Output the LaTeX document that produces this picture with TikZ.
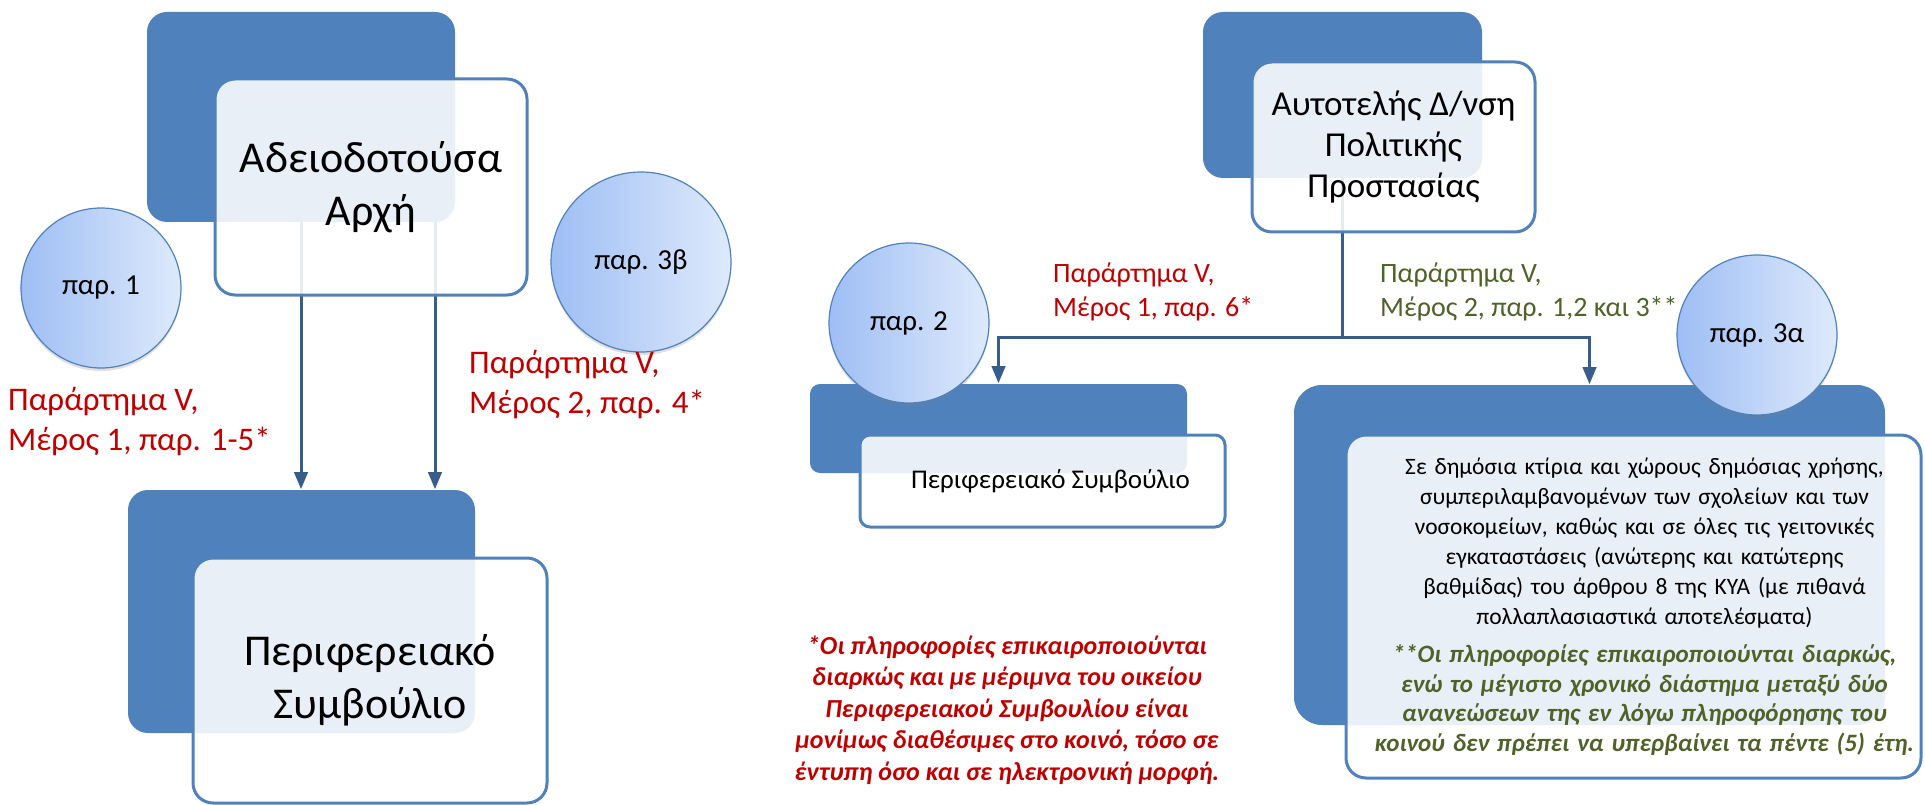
\documentclass[tikz,border=0pt]{standalone}
\usepackage{fontspec}
\setmainfont{Carlito}
\usetikzlibrary{arrows}
\usetikzlibrary{positioning}
\usetikzlibrary{shadows}

\definecolor{boxblue}{RGB}{79,129,189}
\definecolor{linkblue}{RGB}{56,93,138}
\definecolor{notered}{RGB}{192,0,0}
\definecolor{notegreen}{RGB}{79,98,40}
\definecolor{parleft}{RGB}{158,190,244}
\definecolor{parright}{RGB}{222,234,252}

\begin{document}
\begin{tikzpicture}[x=1pt,y=-1pt,>=triangle 45,shorten >=1pt,
    back box/.style={rectangle,rounded corners=20pt,fill=boxblue,inner sep=0pt,outer sep=0pt},
    front box/.style={rectangle,rounded corners=20pt,draw=boxblue,line width=3pt,fill=white,
                      fill opacity=0.88,text opacity=1,align=center,inner sep=0pt,outer sep=0pt},
    par node/.style={circle,draw=boxblue,line width=1.2pt,left color=parleft,right color=parright,
                     inner sep=0pt,minimum size=160pt,font=\fontsize{29}{35}\selectfont,
                     drop shadow={opacity=0.25,shadow xshift=0pt,shadow yshift=-3pt}},
    ref label/.style={align=left,anchor=west,inner sep=0pt,font=\fontsize{33}{40}\selectfont},
    link/.style={draw=linkblue,line width=3pt}]
    \useasboundingbox (0,0) rectangle (1925,805);

    % left part
    \node[back box,minimum width=308pt,minimum height=210pt] (backA) at (301,117) {};
    \node[back box,minimum width=347pt,minimum height=243pt] (backB) at (301.5,611.5) {};
    \draw[link,->] (backA.south) -- (backA.south |- backB.north);
    \draw[link,->] ([xshift=134pt]backA.south) -- ([xshift=134pt]backA.south |- backB.north);
    \node[front box,minimum width=312pt,minimum height=216pt,font=\fontsize{44}{53}\selectfont]
        (frontA) [below right=67pt and 68pt of backA.north west] {Αδειοδοτούσα\\Αρχή};
    \node[front box,minimum width=354pt,minimum height=245pt,font=\fontsize{44}{53}\selectfont]
        (frontB) [below right=68pt and 65pt of backB.north west] {Περιφερειακό\\Συμβούλιο};
    \node[par node] (par1) at (101,288) {παρ. 1};
    \node[par node,minimum size=180pt] (par3b) at (641,262) {παρ. 3β};
    \node[ref label,text=notered] (lblA1) at (8,422) {Παράρτημα V,\\Μέρος 1, παρ. 1-5*};
    \node[ref label,text=notered] (lblA2) at (469,385) {Παράρτημα V,\\Μέρος 2, παρ. 4*};

    % right part
    \node[back box,minimum width=279pt,minimum height=166pt] (backC) at (1342.5,95) {};
    \node[back box,rounded corners=10pt,minimum width=377pt,minimum height=89pt] (backD) at (998.5,428.5) {};
    \node[back box,rounded corners=28pt,minimum width=591pt,minimum height=340pt] (backE) at (1589.5,555) {};
    \coordinate (split) at (1342.5,337);
    \draw[link,shorten >=0pt] (backC.south) -- (split);
    \draw[link,->] (split) -| (backD.north);
    \draw[link,->] (split) -| (backE.north);
    \node[front box,minimum width=283pt,minimum height=170pt,font=\fontsize{35}{41}\selectfont]
        (frontC) [below right=50pt and 49pt of backC.north west] {Αυτοτελής Δ/νση\\Πολιτικής\\Προστασίας};
    \node[front box,rounded corners=10pt,minimum width=365pt,minimum height=92pt,font=\fontsize{27}{32}\selectfont]
        (frontD) [below right=51pt and 50pt of backD.north west] {\hspace*{16pt}Περιφερειακό Συμβούλιο};
    \node[front box,minimum width=575pt,minimum height=343pt,text width=572pt,font=\fontsize{23.5}{30}\selectfont]
        (frontE) [below right=50pt and 52pt of backE.north west]
        {\advance\leftskip by 22pt
         Σε δημόσια κτίρια και χώρους δημόσιας χρήσης,\\συμπεριλαμβανομένων των σχολείων και των\\%
         νοσοκομείων, καθώς και σε όλες τις γειτονικές\\εγκαταστάσεις (ανώτερης και κατώτερης\\%
         βαθμίδας) του άρθρου 8 της ΚΥΑ (με πιθανά\\πολλαπλασιαστικά αποτελέσματα)\\[9pt]%
         {\color{notegreen}\fontsize{25}{29.5}\selectfont\bfseries\itshape **Οι πληροφορίες επικαιροποιούνται διαρκώς,\\%
         ενώ το μέγιστο χρονικό διάστημα μεταξύ δύο\\ανανεώσεων της εν λόγω πληροφόρησης του\\%
         κοινού δεν πρέπει να υπερβαίνει τα πέντε (5) έτη.\par}};
    \node[par node] (par2) at (909,323) {παρ. 2};
    \node[par node] (par3a) at (1757,335) {παρ. 3α};
    \node[ref label,text=notered,font=\fontsize{28}{34}\selectfont] (lblC1) at (1053,292) {Παράρτημα V,\\Μέρος 1, παρ. 6*};
    \node[ref label,text=notegreen,font=\fontsize{28}{34}\selectfont] (lblC2) at (1380,292) {Παράρτημα V,\\Μέρος 2, παρ. 1,2 και 3**};

    % note
    \node[align=center,inner sep=0pt,text=notered,font=\fontsize{26}{31.5}\selectfont\bfseries\itshape]
        (note) at (1007,710) {*Οι πληροφορίες επικαιροποιούνται\\διαρκώς και με μέριμνα του οικείου\\%
        Περιφερειακού Συμβουλίου είναι\\μονίμως διαθέσιμες στο κοινό, τόσο σε\\έντυπη όσο και σε ηλεκτρονική μορφή.};
\end{tikzpicture}
\end{document}
